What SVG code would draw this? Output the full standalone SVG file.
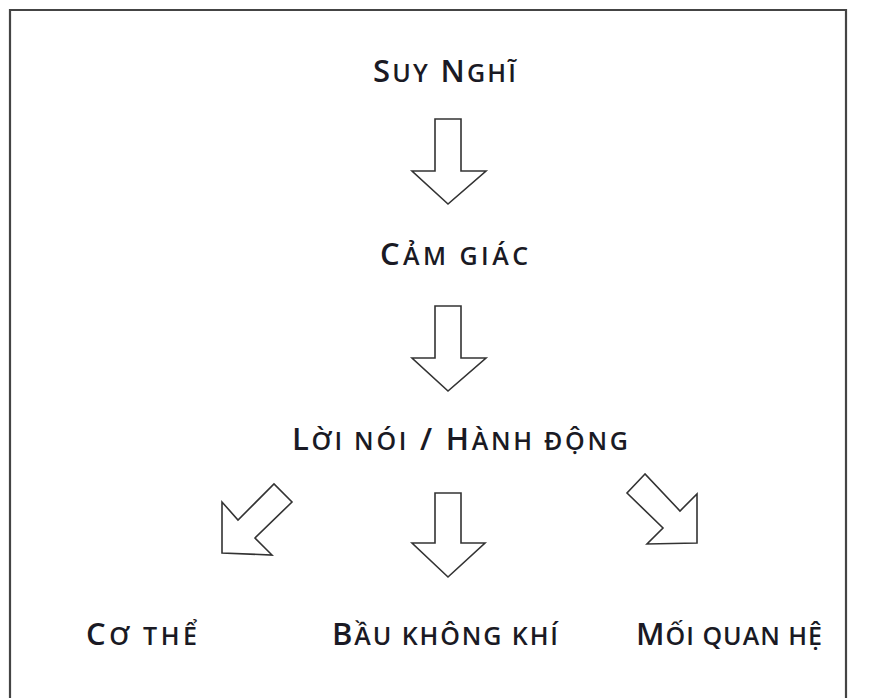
<svg xmlns="http://www.w3.org/2000/svg" width="873" height="698" viewBox="0 0 873 698">
<style>
.lbl{font-family:"Open Sans","Noto Sans","Liberation Sans",sans-serif;font-weight:600;font-size:31px;fill:#1a1a24;}
.sc{font-size:25px;}
.arr{fill:#fff;stroke:#333;stroke-width:1.6;stroke-linejoin:miter;}
.frame{fill:none;stroke:#444;stroke-width:2.2;}
</style>
<rect width="873" height="698" fill="#fff"/>
<path class="frame" d="M10,700 V10 H846 V700"/>
<g id="n1"><text class="lbl" x="373" y="82" textLength="143" lengthAdjust="spacing">S<tspan class="sc">UY</tspan> N<tspan class="sc">GHĨ</tspan></text></g>
<g id="n2"><text class="lbl" x="380" y="265" textLength="148" lengthAdjust="spacing">C<tspan class="sc">ẢM GIÁC</tspan></text></g>
<g id="n3"><text class="lbl" x="292" y="450" textLength="336" lengthAdjust="spacing">L<tspan class="sc">ỜI NÓI</tspan> / H<tspan class="sc">ÀNH ĐỘNG</tspan></text></g>
<g id="n4"><text class="lbl" x="86" y="645" textLength="111" lengthAdjust="spacing">C<tspan class="sc">Ơ THỂ</tspan></text></g>
<g id="n5"><text class="lbl" x="332" y="645" textLength="226" lengthAdjust="spacing">B<tspan class="sc">ẦU KHÔNG KHÍ</tspan></text></g>
<g id="n6"><text class="lbl" x="636" y="645" textLength="186" lengthAdjust="spacing">M<tspan class="sc">ỐI QUAN HỆ</tspan></text></g>
<g id="connectors">
<polygon class="arr" points="435,119 461,119 461,171 486,171 448,204 412,171 435,171"/>
<polygon class="arr" points="435,306 461,306 461,358 486,358 448,391 412,358 435,358"/>
<polygon class="arr" points="222,502 222,553 272,555 255,538 292,502 274,484 238,520"/>
<polygon class="arr" points="435,493 461,493 461,543 485,543 448,577 412,543 435,543"/>
<polygon class="arr" points="645,474 627,493 663,528 647,544 697,543 697,494 680,511"/>
</g>
</svg>
